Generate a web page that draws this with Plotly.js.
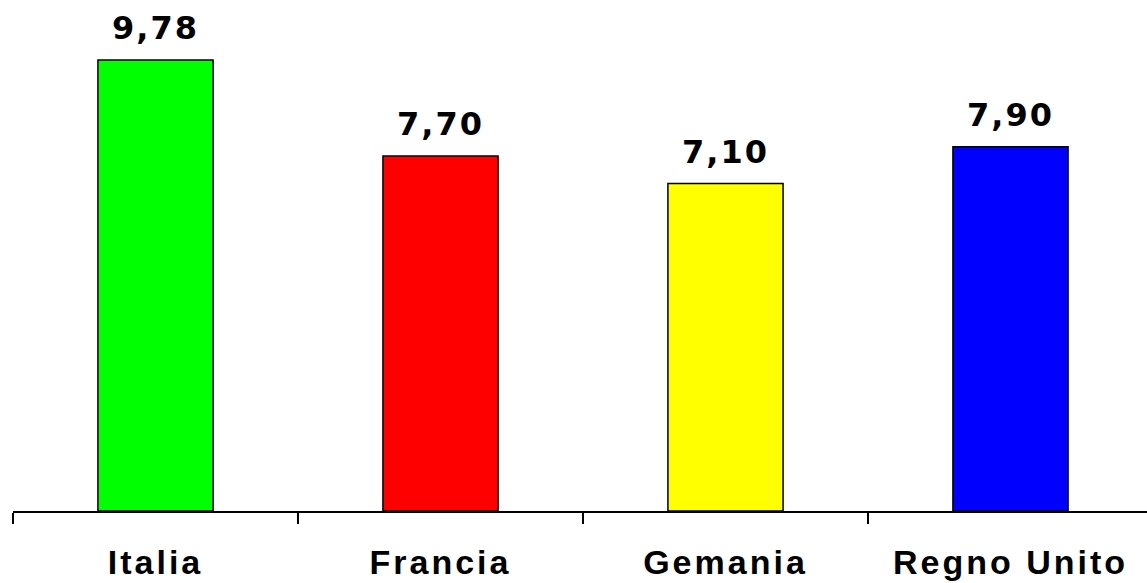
<!DOCTYPE html>
<html>
<head>
<meta charset="utf-8">
<script src="https://cdn.plot.ly/plotly-3.0.1.min.js"></script>
<style>
  html, body { margin: 0; padding: 0; overflow: hidden; background: #fff; }
  #chart { width: 1147px; height: 583px; }
  .xtick text { letter-spacing: 3px; }
  .annotation-text { letter-spacing: 2px; }
</style>
</head>
<body>
<div id="chart"></div>
<script>
// Countries and their values
const countries = ['Italia', 'Francia', 'Gemania', 'Regno Unito'];
const values = [9.78, 7.70, 7.10, 7.90];
const barColors = ['#00ff00', '#ff0000', '#ffff00', '#0000ff'];

// Italian decimal format: comma separator, two decimals
const fmt = v => v.toFixed(2).replace('.', ',');

const trace = {
  type: 'bar',
  x: countries,
  y: values,
  width: 0.404,
  marker: { color: barColors, line: { color: '#000', width: 1.5 } },
  hoverinfo: 'skip'
};

const labels = countries.map((c, i) => ({
  x: c,
  y: values[i],
  xref: 'x',
  yref: 'y',
  text: fmt(values[i]),
  showarrow: false,
  yanchor: 'bottom',
  yshift: 11,
  font: { family: 'DejaVu Sans', size: 32, color: '#000', weight: 'bold' }
}));

const layout = {
  width: 1147,
  height: 583,
  margin: { l: 13, r: 0, t: 0, b: 72 },
  paper_bgcolor: '#fff',
  plot_bgcolor: '#fff',
  showlegend: false,
  bargap: 0,
  xaxis: {
    type: 'category',
    range: [-0.5, 3.479],
    showline: true,
    linecolor: '#000',
    linewidth: 1.5,
    ticks: 'outside',
    tickson: 'boundaries',
    ticklen: 11,
    tickwidth: 1.5,
    tickcolor: '#000',
    showgrid: false,
    zeroline: false,
    ticklabelstandoff: 21,
    tickfont: { family: 'Liberation Sans', size: 34, color: '#000', weight: 'bold' }
  },
  yaxis: {
    range: [0, 11.08],
    visible: false,
    showgrid: false,
    zeroline: false
  },
  annotations: labels
};

Plotly.newPlot('chart', [trace], layout, { displayModeBar: false, staticPlot: true });
</script>
</body>
</html>
